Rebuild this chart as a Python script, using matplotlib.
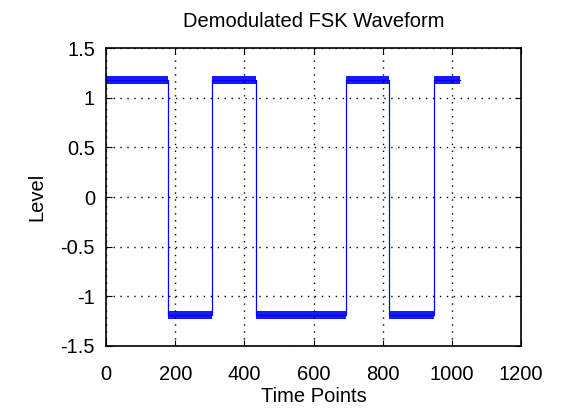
import numpy as np
import matplotlib
matplotlib.use("Agg")
import matplotlib.pyplot as plt

plt.rcParams['font.family'] = ['Liberation Sans', 'DejaVu Sans']

# switching points (time index) and the level held between them
edges = [0, 180, 307, 434, 693, 818, 948, 1024]
levels = [1.18, -1.19, 1.18, -1.19, 1.18, -1.19, 1.18]
noise_band = 0.085  # approx peak-to-peak spread of the noise on the flat parts

x_ticks = [0, 200, 400, 600, 800, 1000, 1200]
y_ticks = [-1.5, -1, -0.5, 0, 0.5, 1, 1.5]
y_labels = ['-1.5', '-1', '-0.5', '0', '0.5', '1', '1.5']

fig = plt.figure(figsize=(5.64, 4.08), dpi=100)
ax = fig.add_axes([0.188, 0.152, 0.736, 0.730])

# square wave outline
xs = np.repeat(edges, 2)[1:-1]
ys = np.repeat(levels, 2)
ax.plot(xs, ys, color='#0000ff', lw=0.9)

# noisy flat sections shown as a band
for i, lv in enumerate(levels):
    ax.fill_between([edges[i], edges[i + 1]], lv - noise_band / 2, lv + noise_band / 2,
                    color='#0000ff', lw=0, alpha=0.9)

ax.set_xlim(0, 1200)
ax.set_ylim(-1.5, 1.5)
ax.set_xticks(x_ticks)
ax.set_yticks(y_ticks)
ax.set_yticklabels(y_labels)
ax.tick_params(direction='in', labelsize=14.5, length=4, top=True, right=True)
ax.tick_params(axis='x', pad=14)
ax.tick_params(axis='y', pad=8)
ax.grid(True, color='black', linestyle=(0, (1, 4)), linewidth=1.0)
for s in ax.spines.values():
    s.set_linewidth(1.2)

ax.set_title('Demodulated FSK Waveform', fontsize=14.5, pad=15)
ax.set_xlabel('Time Points', fontsize=14.5, labelpad=2)
ax.set_ylabel('Level', fontsize=14.5, labelpad=10)

fig.savefig('out.png', dpi=100)
